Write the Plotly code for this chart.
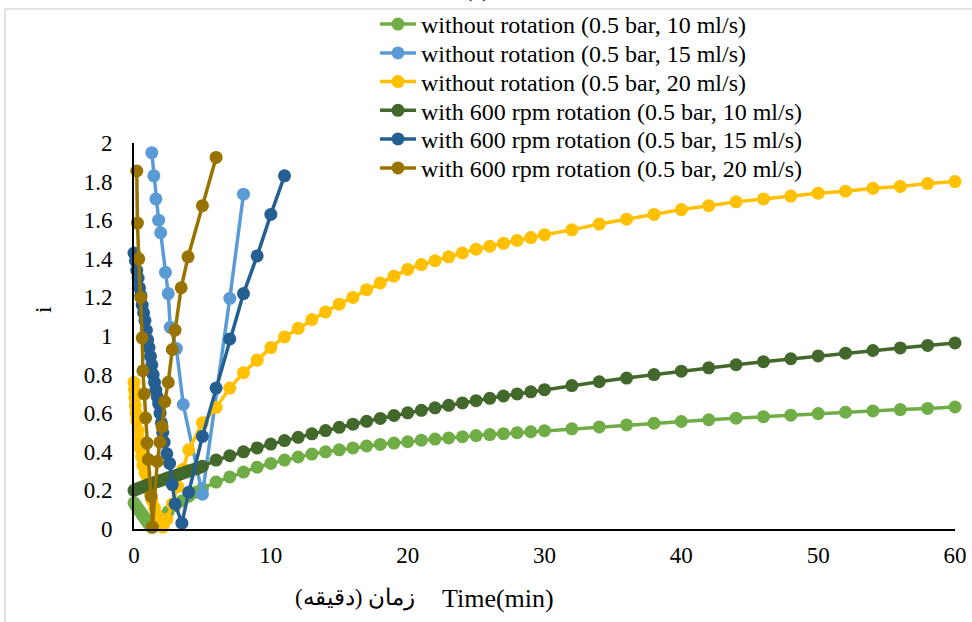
import plotly.graph_objects as go

# ---------------- data ----------------
names = [
    "without rotation (0.5 bar, 10 ml/s)",
    "without rotation (0.5 bar, 15 ml/s)",
    "without rotation (0.5 bar, 20 ml/s)",
    "with 600 rpm rotation (0.5 bar, 10 ml/s)",
    "with 600 rpm rotation (0.5 bar, 15 ml/s)",
    "with 600 rpm rotation (0.5 bar, 20 ml/s)",
]
colors = ["#70AD47", "#5B9BD5", "#FFC000", "#43682B", "#255E91", "#997300"]

# shared later time points (min)
t_late = [5, 6, 7, 8, 9, 10, 11, 12, 13, 14, 15, 16, 17, 18, 19, 20, 21, 22, 23, 24, 25,
          26, 27, 28, 29, 30, 32, 34, 36, 38, 40, 42, 44, 46, 48, 50, 52, 54, 56, 58, 60]

# without rotation, 10 ml/s
lg_early_t = [0, 0.1, 0.2, 0.3, 0.4, 0.5, 0.6, 0.7, 0.8, 0.9, 1.0, 1.1, 1.2, 1.3, 1.6, 2.0, 2.5, 3.0, 3.5, 4.0, 4.5]
lg_early = [0.135, 0.125, 0.115, 0.105, 0.095, 0.085, 0.075, 0.065, 0.055, 0.045, 0.035, 0.025, 0.015, 0.008,
            0.03, 0.06, 0.09, 0.12, 0.145, 0.17, 0.19]
lg_late = [0.21, 0.243, 0.27, 0.295, 0.32, 0.34, 0.357, 0.373, 0.388, 0.40, 0.41, 0.42, 0.43, 0.438, 0.445,
           0.452, 0.46, 0.466, 0.472, 0.478, 0.484, 0.489, 0.494, 0.499, 0.504, 0.509,
           0.519, 0.529, 0.539, 0.548, 0.557, 0.566, 0.574, 0.582, 0.59, 0.598, 0.605, 0.612, 0.619, 0.625, 0.632]

# without rotation, 15 ml/s
lb_t = [1.3, 1.45, 1.6, 1.8, 1.95, 2.3, 2.5, 2.65, 3.1, 3.6, 5.0, 7.0, 8.0]
lb_v = [1.95, 1.83, 1.71, 1.60, 1.535, 1.33, 1.22, 1.045, 0.935, 0.645, 0.18, 1.195, 1.735]

# without rotation, 20 ml/s
yl_early_t = [0, 0.03, 0.06, 0.1, 0.15, 0.2, 0.3, 0.4, 0.45, 0.55, 0.65, 0.8, 0.95, 1.1, 1.3, 1.5, 1.7,
              1.9, 2.1, 2.4, 2.8, 3.2, 3.6, 4.0]
yl_early = [0.76, 0.72, 0.68, 0.64, 0.60, 0.56, 0.51, 0.46, 0.42, 0.375, 0.33, 0.29, 0.24, 0.20, 0.15, 0.11,
            0.07, 0.04, 0.01, 0.05, 0.13, 0.22, 0.31, 0.41]
yl_late = [0.55, 0.63, 0.73, 0.81, 0.875, 0.94, 0.995, 1.04, 1.085, 1.125, 1.165, 1.20, 1.24, 1.275, 1.31,
           1.345, 1.37, 1.39, 1.41, 1.43, 1.45, 1.465, 1.48, 1.495, 1.51, 1.525,
           1.55, 1.58, 1.605, 1.63, 1.655, 1.675, 1.695, 1.71, 1.725, 1.74, 1.75, 1.765, 1.775, 1.79, 1.80]

# with rotation, 10 ml/s
dg_early_t = [0, 0.25, 0.5, 0.75, 1.0, 1.25, 1.5, 1.75, 2.0, 2.25, 2.5, 2.75, 3.0, 3.25, 3.5, 3.75, 4.0,
              4.25, 4.5, 4.75]
dg_early = [0.200, 0.208, 0.215, 0.222, 0.229, 0.235, 0.241, 0.247, 0.253, 0.259, 0.265, 0.27, 0.276,
            0.282, 0.288, 0.294, 0.30, 0.306, 0.312, 0.318]
dg_late = [0.325, 0.357, 0.38, 0.40, 0.42, 0.44, 0.458, 0.475, 0.493, 0.51, 0.527, 0.543, 0.558, 0.573,
           0.588, 0.602, 0.615, 0.628, 0.641, 0.653, 0.665, 0.677, 0.689, 0.70, 0.711, 0.722,
           0.743, 0.763, 0.782, 0.80, 0.818, 0.835, 0.851, 0.867, 0.882, 0.897, 0.911, 0.925, 0.938, 0.951, 0.964]

# with rotation, 15 ml/s
db_t = [0, 0.1, 0.2, 0.3, 0.4, 0.5, 0.6, 0.7, 0.8, 0.9, 1.0, 1.1, 1.2, 1.3, 1.4, 1.5, 1.6, 1.7, 1.8, 1.9,
        2.0, 2.1, 2.2, 2.4, 2.6, 2.8, 3.0, 3.5, 4.0, 5, 6, 7, 8, 9, 10, 11]
db_v = [1.43, 1.39, 1.34, 1.30, 1.25, 1.21, 1.16, 1.12, 1.08, 1.03, 0.98, 0.94, 0.895, 0.85, 0.80, 0.76,
        0.72, 0.685, 0.65, 0.60, 0.55, 0.50, 0.45, 0.39, 0.34, 0.23, 0.13, 0.03, 0.19, 0.48, 0.73, 0.985,
        1.22, 1.415, 1.63, 1.83]

# with rotation, 20 ml/s
br_t = [0.2, 0.25, 0.35, 0.5, 0.6, 0.65, 0.75, 0.85, 0.95, 1.05, 1.25, 1.35, 1.7, 1.9, 2.05, 2.25, 2.5,
        2.8, 3.0, 3.45, 3.95, 5, 6]
br_v = [1.855, 1.585, 1.40, 1.20, 0.99, 0.82, 0.70, 0.575, 0.445, 0.36, 0.17, 0.01, 0.35, 0.45, 0.53,
        0.66, 0.76, 0.93, 1.03, 1.25, 1.41, 1.675, 1.925]

x_ticks = [0, 10, 20, 30, 40, 50, 60]
y_ticks = [0, 0.2, 0.4, 0.6, 0.8, 1, 1.2, 1.4, 1.6, 1.8, 2]

series = [
    (lg_early_t + t_late, lg_early + lg_late),
    (lb_t, lb_v),
    (yl_early_t + t_late, yl_early + yl_late),
    (dg_early_t + t_late, dg_early + dg_late),
    (db_t, db_v),
    (br_t, br_v),
]

# ---------------- figure ----------------
W, H = 972, 622
L, R, T, B = 134, 17, 143, 93
PW, PH = W - L - R, H - T - B


def px_x(p):
    return (p - L) / PW


def px_y(p):
    return (H - B - p) / PH


FONT = "Liberation Serif, Times New Roman, serif"

fig = go.Figure()
legend_rows = [24.5, 53.3, 82.0, 110.7, 139.3, 168.3]
for i, ((xs, ys), nm, col) in enumerate(zip(series, names, colors)):
    lg = "legend" if i == 0 else f"legend{i + 1}"
    fig.add_trace(go.Scatter(
        x=xs, y=ys, name=nm, mode="lines+markers",
        line=dict(color=col, width=3.5),
        marker=dict(color=col, size=13, symbol="circle"),
        cliponaxis=False, legend=lg,
    ))

layout = dict(
    width=W, height=H,
    margin=dict(l=L, r=R, t=T, b=B, autoexpand=False),
    paper_bgcolor="white", plot_bgcolor="white",
    font=dict(family=FONT, size=23, color="black"),
    xaxis=dict(range=[0, 60], tickvals=x_ticks, showgrid=False, zeroline=False,
               showline=True, linecolor="black", linewidth=2, ticks="",
               ticklabelstandoff=4, tickfont=dict(family=FONT, size=23, color="black")),
    yaxis=dict(range=[0, 2], tickvals=y_ticks, showgrid=False, zeroline=False,
               showline=True, linecolor="black", linewidth=2, ticks="",
               ticklabelstandoff=15, tickfont=dict(family=FONT, size=23, color="black")),
    showlegend=True,
    annotations=[
        dict(text="زمان (دقیقه)", xref="paper", yref="paper",
             x=px_x(417), y=px_y(598), xanchor="right", yanchor="middle", showarrow=False,
             font=dict(family=FONT, size=23, color="black")),
        dict(text="Time(min)", xref="paper", yref="paper",
             x=px_x(440), y=px_y(598), xanchor="left", yanchor="middle", showarrow=False,
             font=dict(family=FONT, size=26, color="black")),
        dict(text="i", xref="paper", yref="paper", x=px_x(43), y=px_y(310), textangle=-90,
             xanchor="center", yanchor="middle", showarrow=False,
             font=dict(family=FONT, size=24, color="black")),
        dict(text="(a)", xref="paper", yref="paper", x=px_x(477), y=px_y(-10),
             xanchor="center", yanchor="middle", showarrow=False,
             font=dict(family=FONT, size=22, color="black")),
    ],
    shapes=[
        dict(type="line", xref="paper", yref="paper", x0=px_x(5), x1=px_x(5), y0=px_y(9), y1=px_y(700),
             line=dict(color="#D9D9D9", width=1.5)),
        dict(type="line", xref="paper", yref="paper", x0=px_x(5), x1=px_x(1000), y0=px_y(9), y1=px_y(9),
             line=dict(color="#D9D9D9", width=1.5)),
    ],
)
for i, yc in enumerate(legend_rows):
    key = "legend" if i == 0 else f"legend{i + 1}"
    layout[key] = dict(x=px_x(375), y=px_y(yc), xanchor="left", yanchor="middle",
                       bgcolor="rgba(0,0,0,0)", borderwidth=0, itemwidth=36,
                       font=dict(family=FONT, size=24, color="black"))

fig.update_layout(**layout)
fig.write_html("out.html")
